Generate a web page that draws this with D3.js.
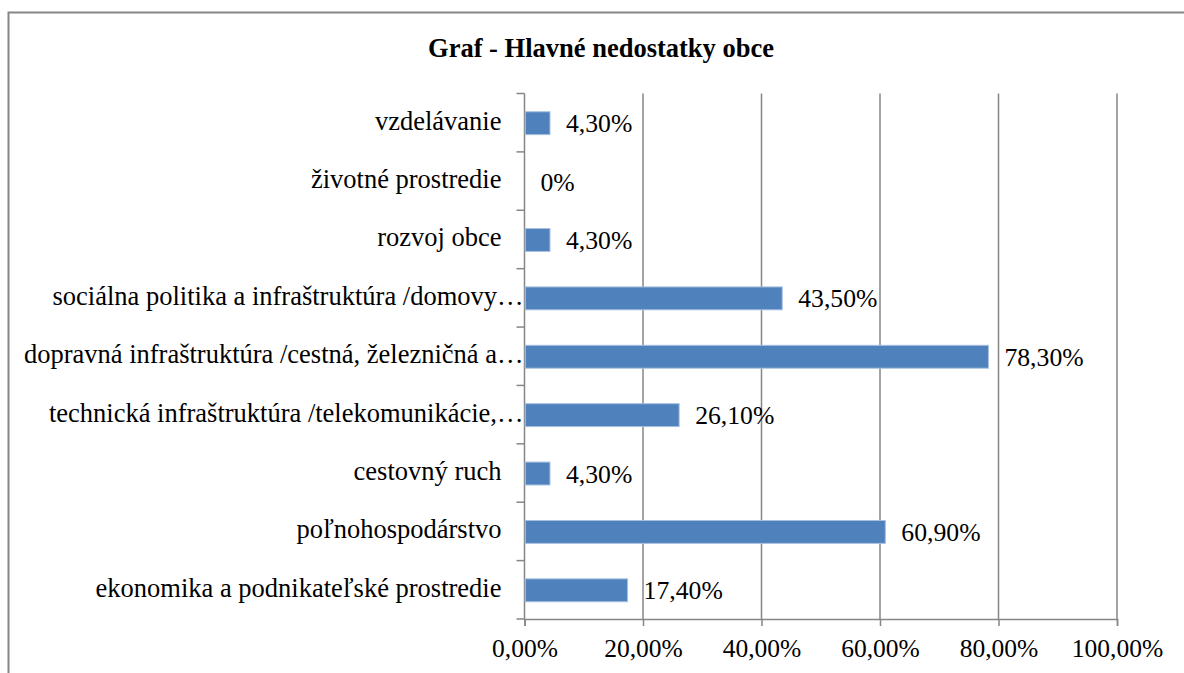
<!DOCTYPE html>
<html>
<head>
<meta charset="utf-8">
<script src="https://cdn.jsdelivr.net/npm/d3@7"></script>
<style>
  html, body { margin: 0; padding: 0; background: #fff; }
  svg { display: block; }
</style>
</head>
<body>
<script>
const title = "Graf - Hlavné nedostatky obce";
const categories = [
  "vzdelávanie",
  "životné prostredie",
  "rozvoj obce",
  "sociálna politika a infraštruktúra /domovy…",
  "dopravná infraštruktúra /cestná, železničná a…",
  "technická infraštruktúra /telekomunikácie,…",
  "cestovný ruch",
  "poľnohospodárstvo",
  "ekonomika a podnikateľské prostredie"
];
const values = [4.3, 0, 4.3, 43.5, 78.3, 26.1, 4.3, 60.9, 17.4];
const valueLabels = ["4,30%", "0%", "4,30%", "43,50%", "78,30%", "26,10%", "4,30%", "60,90%", "17,40%"];
const xTicks = [0, 20, 40, 60, 80, 100];
const xTickLabels = ["0,00%", "20,00%", "40,00%", "60,00%", "80,00%", "100,00%"];

const W = 1184, H = 673;
const FONT = '"Liberation Serif"';
const plot = { left: 524.5, right: 1117, top: 93.5, bottom: 619 };
const gridColor = "#868686";

const svg = d3.select("body").append("svg").attr("width", W).attr("height", H);

// outer chart border (extends beyond the viewport on right/bottom)
svg.append("rect")
  .attr("x", 8.5).attr("y", 12.5)
  .attr("width", 1190).attr("height", 700)
  .attr("fill", "none").attr("stroke", gridColor).attr("stroke-width", 2);

svg.append("text")
  .attr("x", 601).attr("y", 57)
  .attr("text-anchor", "middle")
  .style("font-family", FONT)
  .style("font-size", "26.5px").style("font-weight", "bold")
  .attr("fill", "#000")
  .text(title);

const x = d3.scaleLinear().domain([0, 100]).range([plot.left, plot.right]);
const y = d3.scaleBand().domain(categories).range([plot.top, plot.bottom]).padding(0);
const barH = y.bandwidth() / 2.55;

// vertical gridlines
svg.append("g").selectAll("line").data(xTicks.filter(d => d > 0)).join("line")
  .attr("x1", d => x(d)).attr("x2", d => x(d))
  .attr("y1", plot.top).attr("y2", plot.bottom)
  .attr("stroke", gridColor).attr("stroke-width", 1.5);

// x axis
const xAxis = d3.axisBottom(x).tickValues(xTicks)
  .tickFormat((d, i) => xTickLabels[i]).tickSize(7).tickPadding(9);
const gx = svg.append("g").attr("transform", `translate(0,${plot.bottom})`).call(xAxis);
gx.attr("font-family", null).attr("font-size", null);
gx.select(".domain").attr("stroke", gridColor).attr("stroke-width", 1.5);
gx.selectAll(".tick line").attr("stroke", gridColor).attr("stroke-width", 1.5);
gx.selectAll(".tick text")
  .style("font-family", FONT).style("font-size", "25.5px")
  .attr("fill", "#000").attr("dy", null).attr("y", 38);

// y axis line + tick marks at band boundaries
svg.append("line")
  .attr("x1", plot.left).attr("x2", plot.left)
  .attr("y1", plot.top).attr("y2", plot.bottom)
  .attr("stroke", gridColor).attr("stroke-width", 1.5);
const boundaries = categories.map(c => y(c)).concat([plot.bottom]);
svg.append("g").selectAll("line").data(boundaries).join("line")
  .attr("x1", plot.left - 8).attr("x2", plot.left)
  .attr("y1", d => d).attr("y2", d => d)
  .attr("stroke", gridColor).attr("stroke-width", 1.5);

// category labels
svg.append("g").selectAll("text").data(categories).join("text")
  .attr("x", d => d.endsWith("…") ? plot.left - 1 : plot.left - 23)
  .attr("y", d => y(d) + y.bandwidth() / 2 + 7)
  .attr("text-anchor", "end")
  .style("font-family", FONT).style("font-size", "26.5px")
  .attr("fill", "#000")
  .text(d => d);

// bars
svg.append("g").selectAll("rect").data(values).join("rect")
  .attr("x", x(0) + 0.75)
  .attr("y", (d, i) => y(categories[i]) + (y.bandwidth() - barH) / 2 + 0.5)
  .attr("width", d => Math.max(0, x(d) - x(0) - 0.75))
  .attr("height", barH)
  .attr("fill", "#4F81BD")
  .attr("stroke", d => d > 0 ? "#A7C0DE" : "none")
  .attr("stroke-width", 1);

// data labels
svg.append("g").selectAll("text").data(values).join("text")
  .attr("x", d => x(d) + 16)
  .attr("y", (d, i) => y(categories[i]) + y.bandwidth() / 2 + 9.5)
  .style("font-family", FONT).style("font-size", "25.7px")
  .attr("fill", "#000")
  .text((d, i) => valueLabels[i]);
</script>
</body>
</html>
